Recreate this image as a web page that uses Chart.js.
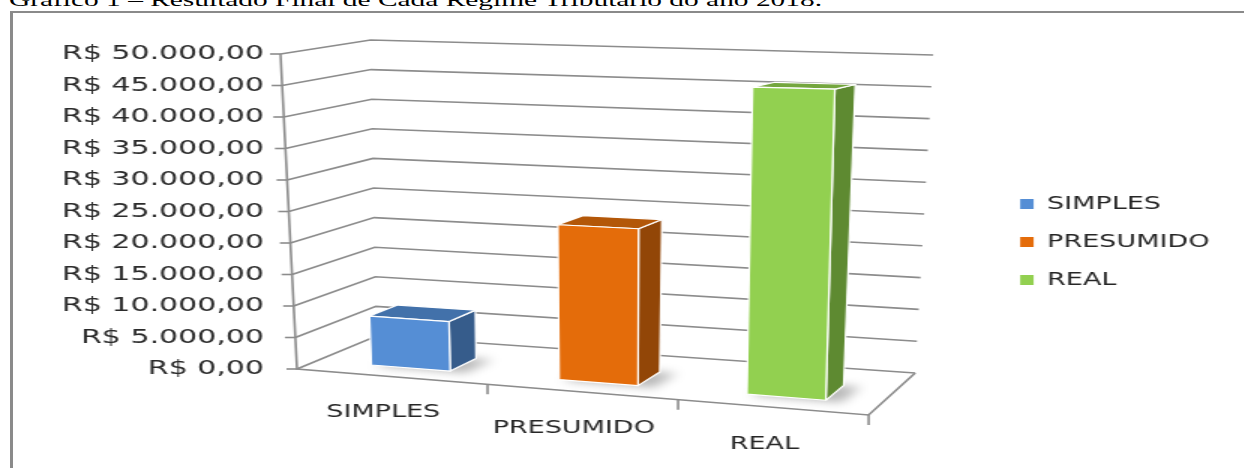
<!DOCTYPE html>
<html>
<head>
<meta charset="utf-8">
<script src="https://cdn.jsdelivr.net/npm/chart.js@4.4.0/dist/chart.umd.min.js"></script>
<style>
  html, body { margin: 0; padding: 0; background: #fff; overflow: hidden; }
  #page { position: relative; width: 1244px; height: 468px; overflow: hidden; }
  #title {
    position: absolute; left: 9px; top: -10px;
    font: 19.6px/20px "Liberation Serif", serif; color: #000; white-space: nowrap;
    transform: scaleX(1.5); transform-origin: 0 0;
  }
  #frame {
    position: absolute; left: 10px; top: 11px; width: 1260px; height: 480px;
    border-left: 3px solid #8a8a8a; border-top: 2px solid #8a8a8a;
  }
  #wrap {
    position: absolute; left: 0; top: 0; width: 829.33px; height: 468px;
    transform: scaleX(1.5); transform-origin: 0 0;
  }
</style>
</head>
<body>
<div id="page">
  <div id="title">Gráfico 1 – Resultado Final de Cada Regime Tributário do ano 2018.</div>
  <div id="frame"></div>
  <div id="wrap"><canvas id="chart"></canvas></div>
</div>
<script>
const categories = ['SIMPLES', 'PRESUMIDO', 'REAL'];
const values = [7800, 23900, 45900];
const frontColors = ['#558ed5', '#e46c0a', '#92d050'];
const topColors = ['#4271aa', '#b35708', '#74a63e'];
const sideColors = ['#365c8b', '#924607', '#5e8a31'];
const yMax = 50000;
const yStep = 5000;

const brl = v => 'R$ ' + String(v).replace(/\B(?=(\d{3})+(?!\d))/g, '.') + ',00';

Chart.defaults.font.family = 'DejaVu Sans';
Chart.defaults.color = '#2b2b2b';

// fake 3D: walls, floor and boxes projected from the 2D scales
const depth3d = {
  id: 'depth3d',
  beforeDatasetsDraw(chart) {
    const { ctx, chartArea: a, scales: { x, y } } = chart;
    const W = a.right - a.left, H = a.bottom - a.top;
    const flb = [a.left, a.bottom], flt = [a.left - 11, a.top];
    const frb = [a.right, a.bottom + 46], frt = [a.right + 7, a.top + 11];
    const blb = [a.left + 53, a.bottom - 33], blt = [a.left + 49, a.top - 14];
    const brb = [a.right + 31, a.bottom + 4], brt = [a.right + 43, a.top + 1];
    const mix = (p, q, t) => [p[0] + (q[0] - p[0]) * t, p[1] + (q[1] - p[1]) * t];
    const P = (u, v, w) => {
      const f = mix(mix(flb, frb, u), mix(flt, frt, u), v);
      const b = mix(mix(blb, brb, u), mix(blt, brt, u), v);
      return mix(f, b, w);
    };
    const vOf = val => (a.bottom - y.getPixelForValue(val)) / H;
    const uOf = px => (px - a.left) / W;
    const poly = pts => {
      ctx.beginPath();
      pts.forEach((p, i) => i ? ctx.lineTo(p[0], p[1]) : ctx.moveTo(p[0], p[1]));
    };

    ctx.save();
    ctx.strokeStyle = '#8c8c8c';
    ctx.lineWidth = 1.6;
    y.ticks.forEach(t => {
      const v = vOf(t.value);
      const p0 = P(0, v, 0);
      poly([p0, P(0, v, 1), P(1, v, 1)]);
      ctx.stroke();
      poly([[p0[0] - 7, p0[1]], p0]);
      ctx.stroke();
    });
    poly([P(0, 1, 0), P(0, 0, 0), P(1, 0, 0), P(1, 0, 1)]);
    ctx.stroke();
    for (let i = 1; i <= categories.length; i++) {
      const p = P(uOf(x.getPixelForValue(i - 0.5)), 0, 0);
      poly([p, [p[0], p[1] + 10]]);
      ctx.stroke();
    }

    const w0 = 0.25, w1 = 0.61;
    chart.getSortedVisibleDatasetMetas().forEach(meta => {
      const c = meta.index;
      const data = chart.data.datasets[c].data;
      meta.data.forEach((el, j) => {
        if (data[j] == null) return;
        const u0 = uOf(el.x - el.width / 2), u1 = uOf(el.x + el.width / 2);
        const v0 = (a.bottom - el.base) / H, v1 = (a.bottom - el.y) / H;
        // soft shadow on the floor
        ctx.save();
        ctx.filter = 'blur(4px)';
        ctx.fillStyle = 'rgba(0,0,0,0.28)';
        poly([P(u0 + 0.01, v0, w0 - 0.02), P(u1 + 0.03, v0, w0 - 0.02), P(u1 + 0.03, v0, w1), P(u0 + 0.01, v0, w1)]);
        ctx.fill();
        ctx.restore();

        ctx.strokeStyle = '#ffffff';
        ctx.lineWidth = 1.2;
        ctx.lineJoin = 'round';
        poly([P(u1, v0, w0), P(u1, v0, w1), P(u1, v1, w1), P(u1, v1, w0)]);
        ctx.closePath();
        ctx.fillStyle = sideColors[c];
        ctx.fill();
        ctx.stroke();
        poly([P(u0, v1, w0), P(u1, v1, w0), P(u1, v1, w1), P(u0, v1, w1)]);
        ctx.closePath();
        ctx.fillStyle = topColors[c];
        ctx.fill();
        ctx.stroke();
        poly([P(u0, v0, w0), P(u1, v0, w0), P(u1, v1, w0), P(u0, v1, w0)]);
        ctx.closePath();
        ctx.fillStyle = frontColors[c];
        ctx.fill();
        ctx.stroke();
      });
    });
    ctx.restore();
    return false;
  }
};

new Chart(document.getElementById('chart'), {
  type: 'bar',
  data: {
    labels: categories,
    datasets: categories.map((name, i) => ({
      label: name,
      data: categories.map((_, j) => j === i ? values[i] : null),
      backgroundColor: frontColors[i],
      xAxisID: 'x',
      yAxisID: 'y'
    }))
  },
  options: {
    responsive: true,
    maintainAspectRatio: false,
    animation: false,
    layout: { padding: { left: 23, right: 13, top: 25, bottom: 9 } },
    datasets: { bar: { categoryPercentage: 0.6, barPercentage: 0.7, skipNull: true } },
    plugins: {
      tooltip: { enabled: false },
      legend: {
        position: 'right',
        maxWidth: 220,
        labels: { boxWidth: 9, boxHeight: 10, padding: 20, color: '#262626', font: { size: 18 } }
      }
    },
    scales: {
      x: {
        grid: { display: false },
        border: { display: false },
        ticks: {
          padding: 27,
          labelOffset: -6,
          color: '#262626',
          font: { size: 18, lineHeight: '16px' },
          callback: (v, i) => Array(i).fill('').concat(categories[i])
        },
        afterFit: s => { s.height = 90; }
      },
      y: {
        min: 0,
        max: yMax,
        grid: { display: false },
        border: { display: false },
        ticks: { stepSize: yStep, padding: 14, color: '#2b2b2b', font: { size: 20 }, callback: v => brl(v) },
        afterFit: s => { s.width = 175; }
      },
      gapRight: {
        type: 'linear',
        position: 'right',
        grid: { display: false },
        border: { display: false },
        ticks: { display: false },
        afterFit: s => { s.width = 81; }
      },
      gapTop: {
        type: 'linear',
        position: 'top',
        grid: { display: false },
        border: { display: false },
        ticks: { display: false },
        afterFit: s => { s.height = 29; }
      }
    }
  },
  plugins: [depth3d]
});
</script>
</body>
</html>
